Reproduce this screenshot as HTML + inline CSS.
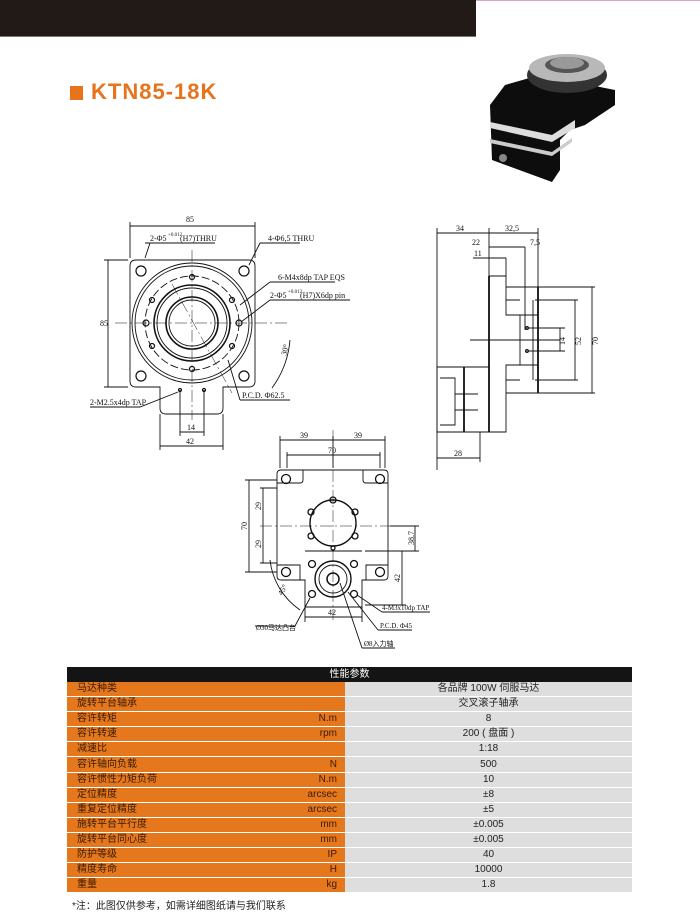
<!DOCTYPE html>
<html><head><meta charset="utf-8">
<style>
body{margin:0;width:700px;height:921px;background:#fff;position:relative;overflow:hidden;font-family:"Liberation Sans","Noto Sans CJK SC",sans-serif}
.bar{position:absolute;left:0;top:0;width:476px;height:36px;background:#211a17;border-bottom:1px solid #777}
.pink{position:absolute;left:476px;top:0;width:224px;height:1px;background:#d9a6c8}
.sq{position:absolute;left:70px;top:86px;width:13px;height:14px;background:#e8731c}
.title{position:absolute;left:91px;top:79px;font-weight:bold;font-size:22px;color:#e8731c;letter-spacing:1px}
table{position:absolute;left:67px;top:667px;width:565px;border-collapse:collapse;font-size:10px}
td{height:14.1px;padding:0;border-bottom:1px solid #fff;line-height:14px;vertical-align:middle}
.l{background:#e5781d;color:#3a1a05;padding-left:10px;width:200px}
.u{background:#e5781d;color:#3a1a05;text-align:right;padding-right:8px;width:60px}
.r{background:#dedede;color:#222;text-align:center}
th{background:#141414;color:#fff;font-weight:normal;font-size:10px;height:13px;line-height:13px}
.note{position:absolute;left:72px;top:897px;font-size:10px;color:#222}
svg{position:absolute;left:0;top:0}
</style></head><body>
<div class="bar"></div><div class="pink"></div>
<div class="sq"></div><div class="title">KTN85-18K</div>
<svg width="700" height="660" viewBox="0 0 700 660" font-family="Liberation Serif,Noto Sans CJK SC,serif" font-size="8" fill="none" stroke="#111" stroke-width="0.9">
<!-- photo -->
<g stroke="none">
<polygon points="505,85 540,75 615,90 615,105 585,125 570,130 560,140 560,170 552,182 492,160 490,105" fill="#0d0d0d"/>
<polygon points="490,122 552,135 575,120 575,128 552,142 490,128" fill="#ddd"/>
<polygon points="490,139 552,152 572,138 572,142 552,156 490,143" fill="#ccc"/>
<ellipse cx="567" cy="75" rx="40" ry="18" fill="#333"/>
<ellipse cx="567" cy="68" rx="38" ry="14" fill="#b8b8b8"/>
<ellipse cx="567" cy="65" rx="22" ry="8" fill="#555"/>
<ellipse cx="567" cy="63" rx="17" ry="6" fill="#999"/>
<circle cx="503" cy="158" r="4" fill="#888"/>
</g>
<!-- top view -->
<path d="M136,260 H249 Q255,260 255,266 V381 Q255,387 249,387 H223 V408 Q223,414 217,414 H166 Q160,414 160,408 V387 H136 Q130,387 130,381 V266 Q130,260 136,260Z"/>
<circle cx="192" cy="323" r="60"/><circle cx="192" cy="323" r="57"/>
<circle cx="192" cy="323" r="47" stroke-dasharray="8,3"/>
<circle cx="192" cy="323" r="38" stroke-width="1.6"/><circle cx="192" cy="323" r="35"/>
<circle cx="192" cy="323" r="26" stroke-width="1.6"/><circle cx="192" cy="323" r="23"/>
<g stroke-width="1.2"><circle cx="141" cy="271" r="5"/><circle cx="244" cy="271" r="5"/><circle cx="141" cy="376" r="5"/><circle cx="244" cy="376" r="5"/>
<circle cx="192" cy="277" r="2.5"/><circle cx="192" cy="369" r="2.5"/><circle cx="152" cy="300" r="2.5"/><circle cx="232" cy="300" r="2.5"/><circle cx="152" cy="346" r="2.5"/><circle cx="232" cy="346" r="2.5"/><circle cx="146" cy="323" r="3"/><circle cx="239" cy="323" r="3"/><circle cx="180" cy="390" r="1.5"/><circle cx="204" cy="390" r="1.5"/></g>
<path d="M115,323 H290 M192,250 V420 M172,284 L232,393" stroke-dasharray="12,3,2,3" stroke-width="0.5"/>
<path d="M130,226 H255 M130,222 V258 M255,222 V258 M108,260 V387 M104,260 H128 M104,387 H128 M180,390 V436 M204,390 V436 M180,432 H204 M160,414 V450 M223,414 V450 M160,446 H223"/>
<path d="M145,243 H215 M150,243 L145,258 M260,243 H300 M260,243 L249,265 M270,282 H335 M270,282 L240,305 M270,300 H350 M270,300 L241,322 M290,340 A95,95 0 0 1 272,388 M240,400 L228,360 M240,400 H290 M90,407 H140 L178,392"/>
<g fill="#111" stroke="none">
<text x="186" y="222">85</text><text x="100" y="326">85</text>
<text x="150" y="241">2-Φ5</text><text x="168" y="236" font-size="5">+0.012</text><text x="180" y="241">(H7)THRU</text>
<text x="268" y="241">4-Φ6,5 THRU</text><text x="278" y="280">6-M4x8dp TAP EQS</text>
<text x="270" y="298">2-Φ5</text><text x="288" y="293" font-size="5">+0.012</text><text x="300" y="298">(H7)X6dp pin</text>
<text x="280" y="356" transform="rotate(-75 283 352)">30°</text>
<text x="242" y="398">P.C.D. Φ62.5</text><text x="90" y="405">2-M2.5x4dp TAP</text>
<text x="187" y="430">14</text><text x="186" y="444">42</text></g>
<!-- side view -->
<path d="M437,228 V470 M489,228 V276 M538,228 V287 M437,233 H538 M489,247 H525 M473,258 H506 M525,247 V330 M506,258 V276"/>
<path d="M489,276 V432 M538,287 V393" stroke-width="1.8"/>
<path d="M489,276 H506 V315 H520 V365 H506 V432 H489 M506,287 H538 M506,300 H520 M506,393 H538 M506,380 H520 M520,315 H538 M520,365 H538 M533,300 V380"/>
<path d="M437,367 H489 V432 H437Z M464,367 V432 M440,378 H455 V425 H440 M455,394 H478 M455,410 H478" />
<path d="M464,367 V432" stroke-width="1.8"/>
<path d="M537,287 H595 M537,393 H595 M592,287 V393 M535,300 H578 M535,380 H578 M575,300 V380 M525,328 H565 M525,351 H565 M560,328 V351 M470,340 H560" />
<path d="M437,458 H480 M480,432 V462"/>
<circle cx="527" cy="328" r="1.5"/><circle cx="527" cy="351" r="1.5"/>
<g fill="#111" stroke="none"><text x="456" y="231">34</text><text x="505" y="231">32,5</text><text x="472" y="245">22</text><text x="474" y="256">11</text><text x="530" y="245">7,5</text>
<text x="454" y="456">28</text>
<text x="0" y="0" transform="translate(565,345) rotate(-90)">14</text><text x="0" y="0" transform="translate(581,345) rotate(-90)">52</text><text x="0" y="0" transform="translate(598,345) rotate(-90)">70</text></g>
<!-- bottom view -->
<path d="M281,470 H384 Q388,470 388,474 V576 Q388,580 384,580 H362 V607 H305 V580 H281 Q277,580 277,576 V474 Q277,470 281,470Z"/>
<path d="M277,483 H300 Q303,483 303,480 V470 M388,483 H366 Q363,483 363,480 V470 M277,565 H300 V580 M388,565 H366 V580 M305,551 H362"/>
<circle cx="333" cy="523" r="23" stroke-width="1.4"/>
<circle cx="333" cy="579" r="18" stroke-width="1.4"/><circle cx="333" cy="579" r="14"/><circle cx="333" cy="579" r="6" stroke-width="1.5"/>
<g stroke-width="1.3"><circle cx="286" cy="479" r="4.5"/><circle cx="380" cy="479" r="4.5"/><circle cx="286" cy="572" r="4.5"/><circle cx="380" cy="572" r="4.5"/>
<circle cx="333" cy="500" r="3"/><circle cx="311" cy="512" r="3"/><circle cx="355" cy="512" r="3"/><circle cx="311" cy="536" r="3"/><circle cx="355" cy="536" r="3"/><circle cx="333" cy="548" r="2"/>
<circle cx="312" cy="564" r="3.5"/><circle cx="354" cy="564" r="3.5"/><circle cx="312" cy="594" r="3.5"/><circle cx="354" cy="594" r="3.5"/></g>
<path d="M260,526 H420 M333,430 V620" stroke-dasharray="12,3,2,3" stroke-width="0.5"/>
<path d="M280,440 H385 M280,436 V468 M385,436 V468 M333,436 V468 M287,455 H380 M287,452 V468 M380,452 V468 M249,480 V572 M245,480 H277 M245,572 H277 M263,488 V563 M260,488 H277 M260,563 H277 M415,526 V551 M390,526 H419 M365,551 H419 M402,551 V605 M365,605 H406 M305,617 H362 M305,607 V622 M362,607 V622"/>
<path d="M255,626 H295 L310,598 M382,612 H430 M382,612 L357,595 M378,630 H412 M378,630 L348,592 M362,648 H395 M362,648 L340,583 M270,560 A70,70 0 0 0 300,610"/>
<g fill="#111" stroke="none"><text x="300" y="438">39</text><text x="354" y="438">39</text><text x="328" y="453">70</text>
<text x="0" y="0" transform="translate(247,530) rotate(-90)">70</text><text x="0" y="0" transform="translate(261,510) rotate(-90)">29</text><text x="0" y="0" transform="translate(261,548) rotate(-90)">29</text>
<text x="0" y="0" transform="translate(414,545) rotate(-90)">38.7</text><text x="0" y="0" transform="translate(400,582) rotate(-90)">42</text>
<text x="328" y="615">42</text><text x="0" y="0" transform="translate(282,596) rotate(-60)">45°</text>
<text x="382" y="610" font-size="7">4-M3x10dp TAP</text><text x="380" y="628" font-size="7">P.C.D. Φ45</text>
<text x="256" y="630" font-size="7">Ø30马达凸台</text><text x="364" y="646" font-size="7">Ø8入力轴</text></g>
</svg>
<table>
<tr><th colspan="3">性能参数</th></tr>
<tr><td class="l">马达种类</td><td class="u"></td><td class="r">各品牌 100W 伺服马达</td></tr>
<tr><td class="l">旋转平台轴承</td><td class="u"></td><td class="r">交叉滚子轴承</td></tr>
<tr><td class="l">容许转矩</td><td class="u">N.m</td><td class="r">8</td></tr>
<tr><td class="l">容许转速</td><td class="u">rpm</td><td class="r">200 ( 盘面 )</td></tr>
<tr><td class="l">减速比</td><td class="u"></td><td class="r">1:18</td></tr>
<tr><td class="l">容许轴向负载</td><td class="u">N</td><td class="r">500</td></tr>
<tr><td class="l">容许惯性力矩负荷</td><td class="u">N.m</td><td class="r">10</td></tr>
<tr><td class="l">定位精度</td><td class="u">arcsec</td><td class="r">±8</td></tr>
<tr><td class="l">重复定位精度</td><td class="u">arcsec</td><td class="r">±5</td></tr>
<tr><td class="l">施转平台平行度</td><td class="u">mm</td><td class="r">±0.005</td></tr>
<tr><td class="l">旋转平台同心度</td><td class="u">mm</td><td class="r">±0.005</td></tr>
<tr><td class="l">防护等级</td><td class="u">IP</td><td class="r">40</td></tr>
<tr><td class="l">精度寿命</td><td class="u">H</td><td class="r">10000</td></tr>
<tr><td class="l">重量</td><td class="u">kg</td><td class="r">1.8</td></tr>
</table>
<div class="note">*注：此图仅供参考，如需详细图纸请与我们联系</div>
</body></html>
